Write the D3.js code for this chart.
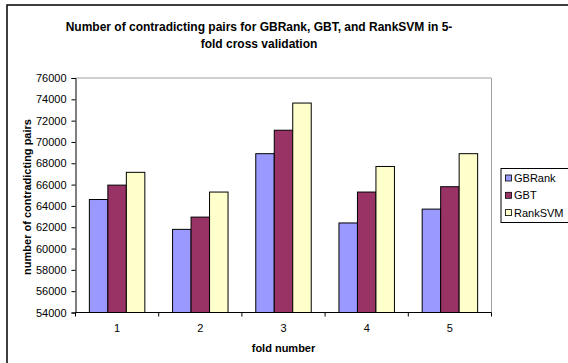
<!DOCTYPE html>
<html>
<head>
<meta charset="utf-8">
<script src="https://cdn.jsdelivr.net/npm/d3@7/dist/d3.min.js"></script>
<style>
  html, body { margin: 0; padding: 0; background: #fff; }
  svg { display: block; font-family: "Liberation Sans", Arial, sans-serif; }
</style>
</head>
<body>
<script>
// Fold numbers and per-method contradicting-pair counts
const folds = ["1", "2", "3", "4", "5"];
const seriesNames = ["GBRank", "GBT", "RankSVM"];
const gbrank  = [64600, 61800, 68900, 62400, 63700];
const gbt     = [65950, 62950, 71100, 65300, 65800];
const ranksvm = [67150, 65300, 73650, 67700, 68900];
const yTicks = [54000, 56000, 58000, 60000, 62000, 64000, 66000, 68000, 70000, 72000, 74000, 76000];
const colors = ["#9999FF", "#993366", "#FFFFCC"];

const W = 568, H = 363;
const plot = { left: 75.5, right: 491.5, top: 78, bottom: 312.5 };
const FONT = "Liberation Sans, Arial, sans-serif";

const svg = d3.select("body").append("svg").attr("width", W).attr("height", H);

// Chart frame
svg.append("rect").attr("x", 7).attr("y", 5).attr("width", W + 10).attr("height", H + 10)
  .attr("fill", "#fff").attr("stroke", "#000").attr("stroke-width", 1.5);

// Title
const title = svg.append("text").attr("text-anchor", "middle")
  .attr("font-size", 12).attr("font-weight", "bold").attr("fill", "#000");
title.append("tspan").attr("x", 259).attr("y", 31).text("Number of contradicting pairs for GBRank, GBT, and RankSVM in 5-");
title.append("tspan").attr("x", 259).attr("y", 48).text("fold cross validation");

const x = d3.scaleBand().domain(folds).range([plot.left, plot.right]).paddingInner(0).paddingOuter(0);
const y = d3.scaleLinear().domain([54000, 76000]).range([plot.bottom, plot.top]);

// Plot area border (grey, top and right)
svg.append("path")
  .attr("d", `M${plot.left},${plot.top}H${plot.right}V${plot.bottom}`)
  .attr("fill", "none").attr("stroke", "#a0a0a0").attr("stroke-width", 1);

// Bars
const data = [gbrank, gbt, ranksvm];
const bw = x.bandwidth();
const barW = bw / (3 + 1.5);
const inner = d3.scaleBand().domain(seriesNames).range([0.75 * barW, 3.75 * barW]);

seriesNames.forEach((name, si) => {
  svg.append("g").selectAll("rect").data(folds).join("rect")
    .attr("x", f => x(f) + inner(name))
    .attr("y", (f, i) => y(data[si][i]))
    .attr("width", inner.bandwidth())
    .attr("height", (f, i) => y(54000) - y(data[si][i]))
    .attr("fill", colors[si])
    .attr("stroke", "#000").attr("stroke-width", 1);
});

// Y axis
const yAxis = d3.axisLeft(y).tickValues(yTicks).tickSize(4).tickPadding(5).tickFormat(d3.format("d"));
const gy = svg.append("g").attr("transform", `translate(${plot.left},0)`).call(yAxis);
gy.select(".domain").attr("stroke", "#000");
gy.selectAll(".tick line").attr("stroke", "#000");
gy.selectAll("text").attr("font-size", 11).attr("fill", "#000").attr("font-family", FONT);

// X axis with ticks at category boundaries
const gx = svg.append("g").attr("transform", `translate(0,${plot.bottom})`);
gx.append("line").attr("x1", plot.left).attr("x2", plot.right).attr("stroke", "#000");
const bounds = folds.map(f => x(f)).concat([x(folds[folds.length - 1]) + bw]);
gx.selectAll("line.tk").data(bounds).join("line").attr("class", "tk")
  .attr("x1", d => d).attr("x2", d => d).attr("y1", 0).attr("y2", 4).attr("stroke", "#000");
gx.selectAll("text").data(folds).join("text")
  .attr("x", f => x(f) + bw / 2).attr("y", 19)
  .attr("text-anchor", "middle").attr("font-size", 11).attr("fill", "#000").text(f => f);

// Axis titles
svg.append("text").attr("x", plot.left + (plot.right - plot.left) / 2).attr("y", 352)
  .attr("text-anchor", "middle").attr("font-size", 11).attr("font-weight", "bold").text("fold number");
svg.append("text").attr("transform", `translate(31,197) rotate(-90)`)
  .attr("text-anchor", "middle").attr("font-size", 11).attr("font-weight", "bold").text("number of contradicting pairs");

// Legend
const lg = svg.append("g");
lg.append("rect").attr("x", 501).attr("y", 168.5).attr("width", 70).attr("height", 54)
  .attr("fill", "#fff").attr("stroke", "#000").attr("stroke-width", 1);
seriesNames.forEach((name, i) => {
  const cy = 178 + i * 17.3;
  lg.append("rect").attr("x", 505.5).attr("y", cy - 3).attr("width", 6).attr("height", 6)
    .attr("fill", colors[i]).attr("stroke", "#000").attr("stroke-width", 0.8);
  lg.append("text").attr("x", 514).attr("y", cy + 4).attr("font-size", 11).text(name);
});
</script>
</body>
</html>
